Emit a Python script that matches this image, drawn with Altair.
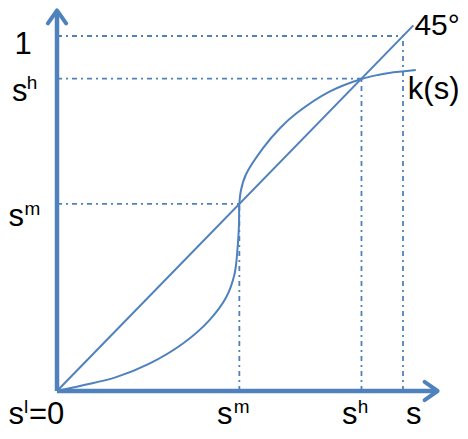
import altair as alt
import pandas as pd

# ---- values (data units: s from 0 to 1) ----
s_l = 0.0
s_m = 0.527
s_h = 0.88
s_one = 1.0
diag_end = 1.03
x_axis_end = 1.10
y_axis_end = 1.072

k_x = [0.0, 0.075, 0.171, 0.267, 0.363, 0.440, 0.489, 0.513, 0.522, 0.526,
       0.527, 0.532, 0.546, 0.596, 0.645, 0.693, 0.789, 0.88, 0.931,
       0.960, 1.037]
k_y = [0.0, 0.016, 0.039, 0.077, 0.133, 0.199, 0.264, 0.329, 0.404, 0.470,
       0.527, 0.567, 0.610, 0.685, 0.741, 0.783, 0.844, 0.879, 0.891,
       0.896, 0.904]

left_labels = ["1", "s", "s"]
left_sups = ["", "h", "m"]
bottom_labels = ["s", "s", "s", "s"]
bottom_sups = ["l", "m", "h", ""]
origin_suffix = "=0"
diag_label = "45°"
curve_label = "k(s)"

BLUE = "#4f81bd"
FONT = "Liberation Sans"
MAIN = 31
SUP = 19

X = alt.Scale(domain=[-0.14162, 1.16474], nice=False, zero=False)
Y = alt.Scale(domain=[-0.11268, 1.07887], nice=False, zero=False)


def xy(xf="x", yf="y"):
    return dict(x=alt.X(f"{xf}:Q", scale=X, axis=None),
                y=alt.Y(f"{yf}:Q", scale=Y, axis=None))


# axes
axes_df = pd.DataFrame({"x": [0, 0], "y": [0, 0],
                        "x2": [0, x_axis_end - 0.01], "y2": [y_axis_end - 0.01, 0]})
axes = alt.Chart(axes_df).mark_rule(color=BLUE, strokeWidth=4.5).encode(
    **xy(), x2="x2:Q", y2="y2:Q")

up_arrow = alt.Chart(pd.DataFrame({"x": [0], "y": [y_axis_end]})).mark_point(
    shape="M-0.7,1L0,0L0.7,1", filled=False, size=676, strokeWidth=4,
    color=BLUE, opacity=1, strokeJoin="round", strokeCap="round").encode(**xy())
right_arrow = alt.Chart(pd.DataFrame({"x": [x_axis_end], "y": [0]})).mark_point(
    shape="M-1,-0.7L0,0L-1,0.7", filled=False, size=676, strokeWidth=4,
    color=BLUE, opacity=1, strokeJoin="round", strokeCap="round").encode(**xy())

# dash-dot guide lines
guides_df = pd.DataFrame({
    "x": [0, 0, 0, s_m, s_h, s_one],
    "y": [s_one, s_h, s_m, 0, 0, 0],
    "x2": [s_one, s_h, s_m, s_m, s_h, s_one],
    "y2": [s_one, s_h, s_m, s_m, s_h, s_one],
})
guides = alt.Chart(guides_df).mark_rule(
    color=BLUE, strokeWidth=1.8, strokeDash=[5, 4, 2, 4], opacity=1).encode(
    **xy(), x2="x2:Q", y2="y2:Q")

# 45 degree line
diag = alt.Chart(pd.DataFrame({"x": [0, diag_end], "y": [0, diag_end], "o": [0, 1]})).mark_line(
    color=BLUE, strokeWidth=2).encode(**xy(), order="o:Q")

# k(s) curve
curve = alt.Chart(pd.DataFrame({"x": k_x, "y": k_y, "o": list(range(len(k_x)))})).mark_line(
    color=BLUE, strokeWidth=2, interpolate="catmull-rom").encode(**xy(), order="o:Q")


def label(text, x, y, dx, dy, size=MAIN, align="left"):
    df = pd.DataFrame({"x": [x], "y": [y], "t": [text]})
    return alt.Chart(df).mark_text(
        align=align, baseline="alphabetic", dx=dx, dy=dy, fontSize=size,
        font=FONT, color="#000").encode(**xy(), text="t:N")


texts = [
    # left side
    label(left_labels[0], 0, s_one, -34, 18, align="center"),
    label(left_labels[1], 0, s_h, -45, 22.4),
    label(left_sups[1], 0, s_h, -30.3, 10.4, size=SUP),
    label(left_labels[2], 0, s_m, -48.5, 22),
    label(left_sups[2], 0, s_m, -32.5, 11, size=SUP),
    # bottom
    label(bottom_labels[0], s_l, 0, -48.5, 33),
    label(bottom_sups[0], s_l, 0, -33, 22, size=SUP),
    label(origin_suffix, s_l, 0, -28, 33),
    label(bottom_labels[1], s_m, 0, -22.3, 33),
    label(bottom_sups[1], s_m, 0, -5.6, 22, size=SUP),
    label(bottom_labels[2], s_h, 0, -19.5, 33),
    label(bottom_sups[2], s_h, 0, -3.8, 22, size=SUP),
    label(bottom_labels[3], s_one, 0, 3, 33),
    # curve labels
    label(diag_label, diag_end, diag_end, 1, 10, size=30),
    label(curve_label, k_x[-1], k_y[-1], -8, 29),
]

chart = alt.layer(guides, diag, curve, axes, up_arrow, right_arrow, *texts).properties(
    width=452, height=423, padding=0,
    autosize=alt.AutoSizeParams(type="none"),
    background="white",
).configure_view(stroke=None)

chart.save("out.html", embed_options={"renderer": "svg", "actions": False})
